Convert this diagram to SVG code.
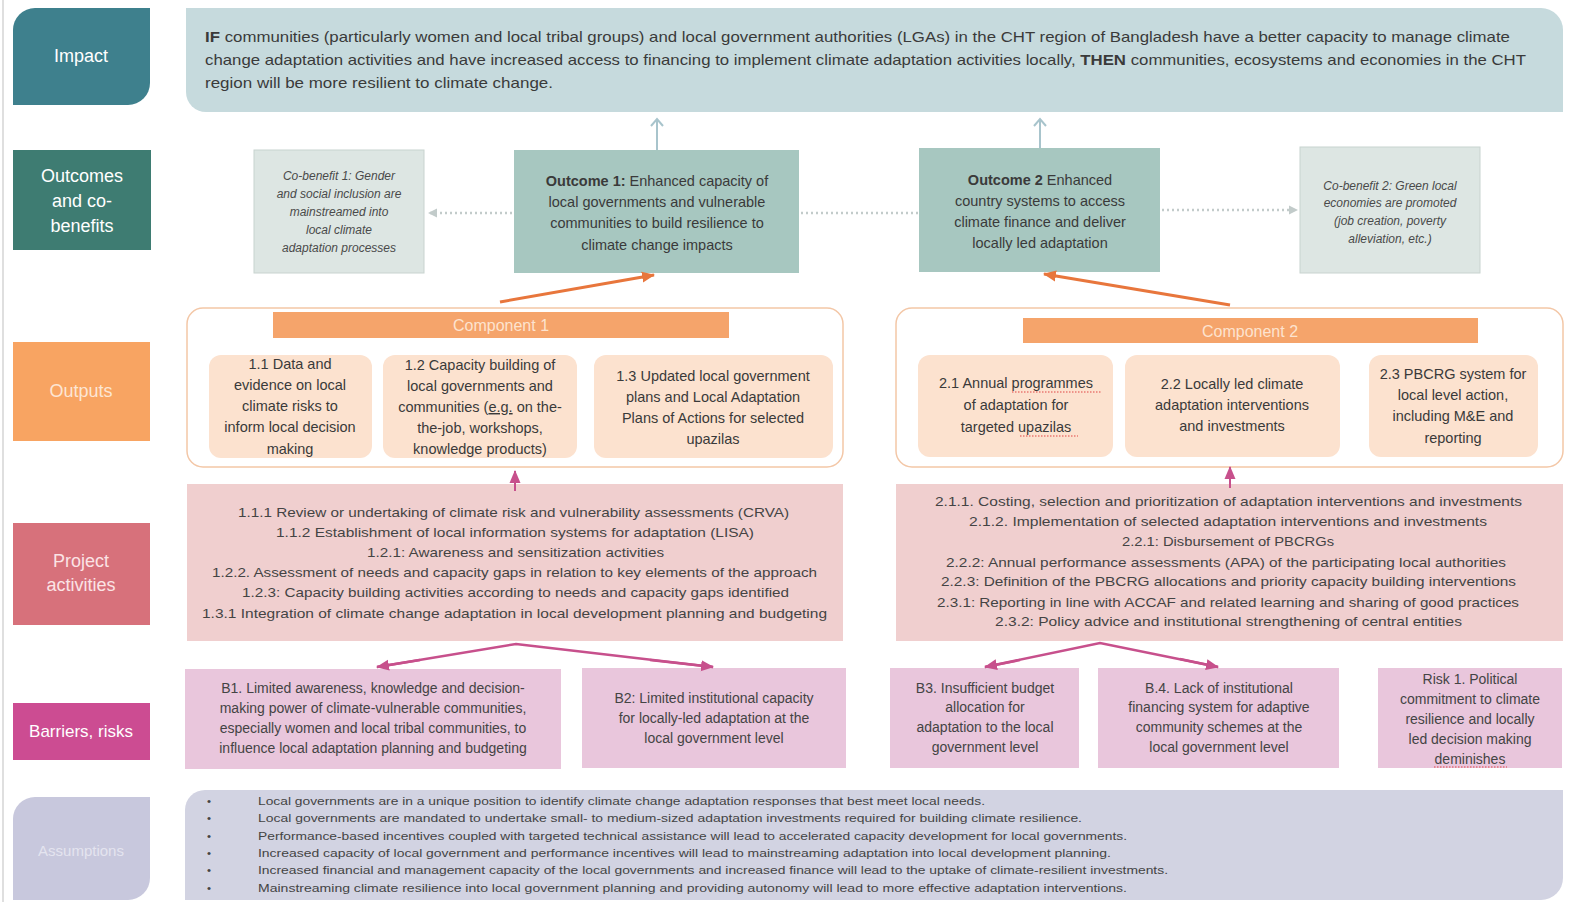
<svg xmlns="http://www.w3.org/2000/svg" width="1572" height="902" viewBox="0 0 1572 902">
<style>
text{font-family:"Liberation Sans",Arial,sans-serif;fill:#3a3a3a}
.lbl{font-size:18px;fill:#ffffff;text-anchor:middle}
.imp{font-size:15px}
.oc{font-size:14.5px;text-anchor:middle}
.cb{font-size:12px;font-style:italic;text-anchor:middle;fill:#4a4a4a}
.op{font-size:14.5px;text-anchor:middle}
.act{font-size:13.5px;fill:#444}
.bar{font-size:14px;text-anchor:middle;fill:#444}
.asm{font-size:11.5px;fill:#444}
.b{font-weight:bold}
.cobox{fill:#dde6e3;stroke:#c8d3cf;stroke-width:1}
.ocbox{fill:#a7c7c0}
.opbox{fill:#fce2cf}
.cont{fill:#ffffff;stroke:#f3c7a7;stroke-width:1.5}
.hdr{fill:#f5a46b}
.hdrt{font-size:16px;fill:#fde3cf;text-anchor:middle}
.actbox{fill:#f0cfcf}
.barbox{fill:#e9c6dc}
.up{stroke:#a8c4cc;stroke-width:2;fill:none}
.dot{stroke:#c2cbca;stroke-width:2.5;stroke-dasharray:2 3;fill:none}
.org{stroke:#e8763c;stroke-width:3;fill:none}
.mag{stroke:#c7508c;stroke-width:3;fill:none}
.spell{stroke:#e04545;stroke-width:1.2;stroke-dasharray:1.5 1.5;fill:none}
</style>
<defs>
<marker id="mUp" markerUnits="userSpaceOnUse" markerWidth="16" markerHeight="16" refX="8" refY="8" orient="auto">
<path d="M1,2 L8,8 L1,14" fill="none" stroke="#a8c4cc" stroke-width="2"/>
</marker>
<marker id="mDot" markerUnits="userSpaceOnUse" markerWidth="12" markerHeight="12" refX="9" refY="6" orient="auto">
<path d="M1,1.5 L10,6 L1,10.5 Z" fill="#c2cbca"/>
</marker>
<marker id="mOrg" markerUnits="userSpaceOnUse" markerWidth="16" markerHeight="16" refX="12" refY="8" orient="auto">
<path d="M0,2.5 L13,8 L0,13.5 Z" fill="#e8763c"/>
</marker>
<marker id="mMag" markerUnits="userSpaceOnUse" markerWidth="16" markerHeight="16" refX="12" refY="8" orient="auto">
<path d="M0,2.5 L13,8 L0,13.5 Z" fill="#c7508c"/>
</marker>
</defs>

<rect width="1572" height="902" fill="#ffffff"/>
<line x1="3" y1="0" x2="3" y2="902" stroke="#d4d4d4" stroke-width="1.5"/>

<!-- Row labels -->
<g id="label-impact">
<path d="M13,30 A22,22 0 0 1 35,8 H150 V83 A22,22 0 0 1 128,105 H13 Z" fill="#3e808d"/>
<text class="lbl" x="81" y="62">Impact</text>
</g>
<g id="label-outcomes">
<rect x="13" y="150" width="138" height="100" fill="#3e7c72"/>
<text class="lbl" x="82" y="182">Outcomes</text>
<text class="lbl" x="82" y="207">and co-</text>
<text class="lbl" x="82" y="232">benefits</text>
</g>
<g id="label-outputs">
<rect x="13" y="342" width="137" height="99" fill="#f8a462"/>
<text class="lbl" x="81" y="397" style="fill:#fde6d4">Outputs</text>
</g>
<g id="label-activities">
<rect x="13" y="523" width="137" height="102" fill="#d7717b"/>
<text class="lbl" x="81" y="567" style="fill:#fbe3e5">Project</text>
<text class="lbl" x="81" y="591" style="fill:#fbe3e5">activities</text>
</g>
<g id="label-barriers">
<rect x="13" y="703" width="137" height="57" fill="#cc4c92"/>
<text class="lbl" x="81" y="737" style="font-size:17px">Barriers, risks</text>
</g>
<g id="label-assumptions">
<path d="M13,819 A22,22 0 0 1 35,797 H150 V878 A22,22 0 0 1 128,900 H13 Z" fill="#c8c8dd"/>
<text class="lbl" x="81" y="856" style="font-size:15px;fill:#e4e4ef">Assumptions</text>
</g>

<!-- Impact -->
<g id="impact">
<path d="M186,8 H1541 A22,22 0 0 1 1563,30 V112 H206 A20,20 0 0 1 186,92 Z" fill="#c6dadd"/>
<text class="imp" x="205" y="42" textLength="1305" lengthAdjust="spacingAndGlyphs"><tspan class="b">IF</tspan> communities (particularly women and local tribal groups) and local government authorities (LGAs) in the CHT region of Bangladesh have a better capacity to manage climate</text>
<text class="imp" x="205" y="65" textLength="1321" lengthAdjust="spacingAndGlyphs">change adaptation activities and have increased access to financing to implement climate adaptation activities locally, <tspan class="b">THEN</tspan> communities, ecosystems and economies in the CHT</text>
<text class="imp" x="205" y="88" textLength="348" lengthAdjust="spacingAndGlyphs">region will be more resilient to climate change.</text>
</g>

<!-- Outcomes -->
<g id="cobenefit1">
<rect class="cobox" x="254" y="150" width="170" height="123"/>
<text class="cb" x="339" y="180">Co-benefit 1: Gender</text>
<text class="cb" x="339" y="198">and social inclusion are</text>
<text class="cb" x="339" y="216">mainstreamed into</text>
<text class="cb" x="339" y="234">local climate</text>
<text class="cb" x="339" y="252">adaptation  processes</text>
</g>
<g id="outcome1">
<rect class="ocbox" x="514" y="150" width="285" height="123"/>
<text class="oc" x="657" y="186"><tspan class="b">Outcome 1:</tspan>  Enhanced capacity of</text>
<text class="oc" x="657" y="207">local governments and vulnerable</text>
<text class="oc" x="657" y="228">communities to build resilience to</text>
<text class="oc" x="657" y="250">climate change impacts</text>
</g>
<g id="outcome2">
<rect class="ocbox" x="919" y="148" width="241" height="124"/>
<text class="oc" x="1040" y="185"><tspan class="b">Outcome 2</tspan>  Enhanced</text>
<text class="oc" x="1040" y="206">country systems to access</text>
<text class="oc" x="1040" y="227">climate finance and deliver</text>
<text class="oc" x="1040" y="248">locally led adaptation</text>
</g>
<g id="cobenefit2">
<rect class="cobox" x="1300" y="147" width="180" height="126"/>
<text class="cb" x="1390" y="190">Co-benefit 2: Green local</text>
<text class="cb" x="1390" y="207">economies are promoted</text>
<text class="cb" x="1390" y="225">(job creation, poverty</text>
<text class="cb" x="1390" y="243">alleviation, etc.)</text>
</g>

<!-- Component 1 -->
<g id="component1">
<rect class="cont" x="187" y="308" width="656" height="159" rx="16"/>
<rect class="hdr" x="273" y="312" width="456" height="26"/>
<text class="hdrt" x="501" y="331">Component 1</text>
</g>
<g id="output-1-1">
<rect class="opbox" x="209" y="355" width="163" height="103" rx="12"/>
<text class="op" x="290" y="369">1.1 Data and</text>
<text class="op" x="290" y="390">evidence on local</text>
<text class="op" x="290" y="411">climate risks to</text>
<text class="op" x="290" y="432">inform local decision</text>
<text class="op" x="290" y="454">making</text>
</g>
<g id="output-1-2">
<rect class="opbox" x="383" y="355" width="194" height="103" rx="12"/>
<text class="op" x="480" y="370">1.2 Capacity building of</text>
<text class="op" x="480" y="391">local governments and</text>
<text class="op" x="480" y="412">communities (<tspan text-decoration="underline">e.g.</tspan> on the-</text>
<text class="op" x="480" y="433">the-job, workshops,</text>
<text class="op" x="480" y="454">knowledge products)</text>
</g>
<g id="output-1-3">
<rect class="opbox" x="594" y="355" width="239" height="103" rx="12"/>
<text class="op" x="713" y="381">1.3 Updated local government</text>
<text class="op" x="713" y="402">plans and Local Adaptation</text>
<text class="op" x="713" y="423">Plans of Actions for selected</text>
<text class="op" x="713" y="444">upazilas</text>
</g>

<!-- Component 2 -->
<g id="component2">
<rect class="cont" x="896" y="308" width="667" height="159" rx="16"/>
<rect class="hdr" x="1023" y="318" width="455" height="25"/>
<text class="hdrt" x="1250" y="337">Component 2</text>
</g>
<g id="output-2-1">
<rect class="opbox" x="918" y="355" width="195" height="102" rx="12"/>
<text class="op" x="1016" y="388">2.1 Annual programmes</text>
<text class="op" x="1016" y="410">of adaptation for</text>
<text class="op" x="1016" y="432">targeted upazilas</text>
<path class="spell" d="M1012,392 H1102 M1020,436 H1078"/>
</g>
<g id="output-2-2">
<rect class="opbox" x="1125" y="355" width="215" height="102" rx="12"/>
<text class="op" x="1232" y="389">2.2 Locally led climate</text>
<text class="op" x="1232" y="410">adaptation interventions</text>
<text class="op" x="1232" y="431">and investments</text>
</g>
<g id="output-2-3">
<rect class="opbox" x="1369" y="355" width="169" height="102" rx="12"/>
<text class="op" x="1453" y="379">2.3 PBCRG system for</text>
<text class="op" x="1453" y="400">local level action,</text>
<text class="op" x="1453" y="421">including M&amp;E and</text>
<text class="op" x="1453" y="443">reporting</text>
</g>

<!-- Activities -->
<g id="activities1">
<rect class="actbox" x="187" y="484" width="656" height="157"/>
<text class="act" x="238" y="517" textLength="551" lengthAdjust="spacingAndGlyphs">1.1.1  Review or undertaking of climate risk and vulnerability assessments (CRVA)</text>
<text class="act" x="276" y="537" textLength="478" lengthAdjust="spacingAndGlyphs">1.1.2  Establishment of local information systems for adaptation (LISA)</text>
<text class="act" x="367" y="557" textLength="297" lengthAdjust="spacingAndGlyphs">1.2.1: Awareness and sensitization activities</text>
<text class="act" x="212" y="577" textLength="605" lengthAdjust="spacingAndGlyphs">1.2.2. Assessment of needs and capacity gaps in relation to key elements of the approach</text>
<text class="act" x="242" y="597" textLength="547" lengthAdjust="spacingAndGlyphs">1.2.3: Capacity building activities according to needs and capacity gaps identified</text>
<text class="act" x="202" y="618" textLength="625" lengthAdjust="spacingAndGlyphs">1.3.1 Integration of climate change adaptation in local development planning and budgeting</text>
</g>
<g id="activities2">
<rect class="actbox" x="896" y="484" width="667" height="157"/>
<text class="act" x="935" y="506" textLength="587" lengthAdjust="spacingAndGlyphs">2.1.1. Costing, selection and prioritization of adaptation interventions and investments</text>
<text class="act" x="969" y="526" textLength="518" lengthAdjust="spacingAndGlyphs">2.1.2. Implementation of selected adaptation interventions and investments</text>
<text class="act" x="1122" y="546" textLength="212" lengthAdjust="spacingAndGlyphs">2.2.1: Disbursement of PBCRGs</text>
<text class="act" x="946" y="567" textLength="560" lengthAdjust="spacingAndGlyphs">2.2.2: Annual performance assessments (APA) of the participating local authorities</text>
<text class="act" x="941" y="586" textLength="575" lengthAdjust="spacingAndGlyphs">2.2.3: Definition of the PBCRG allocations and priority capacity building interventions</text>
<text class="act" x="937" y="607" textLength="582" lengthAdjust="spacingAndGlyphs">2.3.1: Reporting in line with ACCAF and related learning and sharing of good practices</text>
<text class="act" x="995" y="626" textLength="467" lengthAdjust="spacingAndGlyphs">2.3.2: Policy advice and institutional strengthening of central entities</text>
</g>

<!-- Barriers -->
<g id="barrier-b1">
<rect class="barbox" x="185" y="669" width="376" height="100"/>
<text class="bar" x="373" y="693">B1. Limited awareness, knowledge and decision-</text>
<text class="bar" x="373" y="713">making power of climate-vulnerable communities,</text>
<text class="bar" x="373" y="733">especially women and local tribal communities, to</text>
<text class="bar" x="373" y="753">influence local adaptation planning and budgeting</text>
</g>
<g id="barrier-b2">
<rect class="barbox" x="582" y="668" width="264" height="100"/>
<text class="bar" x="714" y="703">B2: Limited institutional capacity</text>
<text class="bar" x="714" y="723">for locally-led adaptation at the</text>
<text class="bar" x="714" y="743">local government level</text>
</g>
<g id="barrier-b3">
<rect class="barbox" x="890" y="668" width="189" height="100"/>
<text class="bar" x="985" y="693">B3. Insufficient budget</text>
<text class="bar" x="985" y="712">allocation for</text>
<text class="bar" x="985" y="732">adaptation to the local</text>
<text class="bar" x="985" y="752">government level</text>
</g>
<g id="barrier-b4">
<rect class="barbox" x="1098" y="668" width="241" height="100"/>
<text class="bar" x="1219" y="693">B.4. Lack of institutional</text>
<text class="bar" x="1219" y="712">financing system for adaptive</text>
<text class="bar" x="1219" y="732">community schemes at the</text>
<text class="bar" x="1219" y="752">local government level</text>
</g>
<g id="risk-1">
<rect class="barbox" x="1378" y="668" width="184" height="100"/>
<text class="bar" x="1470" y="684">Risk 1. Political</text>
<text class="bar" x="1470" y="704">commitment to climate</text>
<text class="bar" x="1470" y="724">resilience and locally</text>
<text class="bar" x="1470" y="744">led decision making</text>
<text class="bar" x="1470" y="764">deminishes</text>
<path class="spell" d="M1434,767 H1507"/>
</g>

<!-- Assumptions -->
<g id="assumptions">
<path d="M185,810 A20,20 0 0 1 205,790 H1563 V878 A22,22 0 0 1 1541,900 H185 Z" fill="#d2d3e2"/>
<g class="asm">
<text class="asm" x="207" y="805">•</text>
<text class="asm" x="207" y="822">•</text>
<text class="asm" x="207" y="840">•</text>
<text class="asm" x="207" y="857">•</text>
<text class="asm" x="207" y="874">•</text>
<text class="asm" x="207" y="892">•</text>
</g>
<text class="asm" x="258" y="805" textLength="727" lengthAdjust="spacingAndGlyphs">Local governments are in a unique position to identify climate change adaptation responses that best meet local needs.</text>
<text class="asm" x="258" y="822" textLength="824" lengthAdjust="spacingAndGlyphs">Local governments are mandated to undertake small- to medium-sized adaptation investments required for building climate resilience.</text>
<text class="asm" x="258" y="840" textLength="869" lengthAdjust="spacingAndGlyphs">Performance-based incentives coupled with targeted technical assistance will lead to accelerated capacity development for local governments.</text>
<text class="asm" x="258" y="857" textLength="853" lengthAdjust="spacingAndGlyphs">Increased capacity of local government and performance incentives will lead to mainstreaming adaptation into local development planning.</text>
<text class="asm" x="258" y="874" textLength="910" lengthAdjust="spacingAndGlyphs">Increased financial and management capacity of the local governments and increased finance will lead to the uptake of climate-resilient investments.</text>
<text class="asm" x="258" y="892" textLength="869" lengthAdjust="spacingAndGlyphs">Mainstreaming climate resilience into local government planning and providing autonomy will lead to more effective adaptation interventions.</text>
</g>

<!-- Connectors -->
<g id="connectors">
<line class="up" x1="657" y1="150" x2="657" y2="119" marker-end="url(#mUp)"/>
<line class="up" x1="1040" y1="148" x2="1040" y2="119" marker-end="url(#mUp)"/>
<line class="dot" x1="512" y1="213" x2="429" y2="213" marker-end="url(#mDot)"/>
<line class="dot" x1="801" y1="213" x2="918" y2="213"/>
<line class="dot" x1="1162" y1="210" x2="1297" y2="210" marker-end="url(#mDot)"/>
<line class="org" x1="500" y1="302" x2="654" y2="275" marker-end="url(#mOrg)"/>
<line class="org" x1="1230" y1="305" x2="1044" y2="274" marker-end="url(#mOrg)"/>
<line class="mag" x1="515" y1="491" x2="515" y2="471" style="stroke-width:2" marker-end="url(#mMag)"/>
<line class="mag" x1="1230" y1="488" x2="1230" y2="467" style="stroke-width:2" marker-end="url(#mMag)"/>
<polyline class="mag" points="377,667 516,644 713,667" style="stroke-width:2.5"/>
<line class="mag" x1="420" y1="660" x2="377" y2="667" style="stroke-width:2.5" marker-end="url(#mMag)"/>
<line class="mag" x1="650" y1="660" x2="713" y2="667" style="stroke-width:2.5" marker-end="url(#mMag)"/>
<polyline class="mag" points="985,667 1100,643 1218,667" style="stroke-width:2.5"/>
<line class="mag" x1="1020" y1="660" x2="985" y2="667" style="stroke-width:2.5" marker-end="url(#mMag)"/>
<line class="mag" x1="1180" y1="659" x2="1218" y2="667" style="stroke-width:2.5" marker-end="url(#mMag)"/>
</g>
</svg>
